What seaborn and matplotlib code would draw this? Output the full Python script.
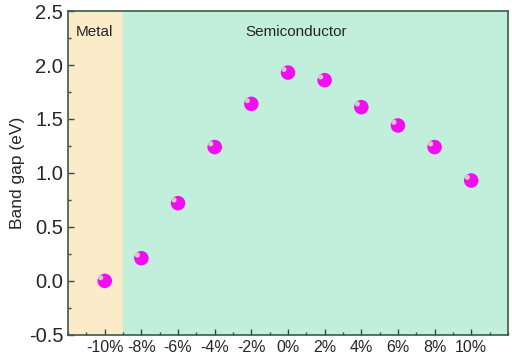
import matplotlib
matplotlib.use('Agg')
import matplotlib.pyplot as plt
import seaborn as sns
import numpy as np
import pandas as pd
from matplotlib.ticker import MultipleLocator

strain = [-10, -8, -6, -4, -2, 0, 2, 4, 6, 8, 10]
band_gap = [0.0, 0.21, 0.72, 1.24, 1.64, 1.93, 1.86, 1.61, 1.44, 1.24, 0.93]
tick_labels = ['-10%', '-8%', '-6%', '-4%', '-2%', '0%', '2%', '4%', '6%', '8%', '10%']
regions = ['Metal', 'Semiconductor']

df = pd.DataFrame({'strain': strain, 'gap': band_gap})

sns.set_style('ticks')
plt.rcParams['font.family'] = ['Liberation Sans', 'DejaVu Sans']

fig, ax = plt.subplots(figsize=(5.12, 3.57), dpi=100)
fig.subplots_adjust(left=0.133, right=0.992, top=0.969, bottom=0.062)

ax.axvspan(-12, -9, color='#fcebc9', zorder=0)
ax.axvspan(-9, 12, color='#c2efdc', zorder=0)

sns.scatterplot(data=df, x='strain', y='gap', ax=ax, s=110, color='#f20ef2',
                edgecolor='none', zorder=3)
# little highlight to make the dots look like spheres
ax.scatter(np.array(strain) - 0.22, np.array(band_gap) + 0.03, s=14,
           color='#d8c8c8', edgecolor='none', zorder=4)

ax.text(-10.55, 2.31, regions[0], ha='center', va='center', fontsize=11)
ax.text(0.45, 2.31, regions[1], ha='center', va='center', fontsize=11)

ax.set_xlim(-12, 12)
ax.set_ylim(-0.5, 2.5)
ax.set_xticks(strain)
ax.set_xticklabels(tick_labels, fontsize=11.5)
ax.xaxis.set_minor_locator(MultipleLocator(1))
ax.yaxis.set_major_locator(MultipleLocator(0.5))
ax.yaxis.set_minor_locator(MultipleLocator(0.25))
ax.yaxis.set_major_formatter(matplotlib.ticker.FormatStrFormatter('%.1f'))
ax.tick_params(axis='y', labelsize=14.5)
ax.tick_params(which='both', direction='in', color='#2f4f3f', width=1)
ax.tick_params(which='major', length=4)
ax.tick_params(which='minor', length=2.5)
ax.tick_params(top=False, right=False)
for sp in ax.spines.values():
    sp.set_color('#3c5a4a')
    sp.set_linewidth(1.2)

ax.set_xlabel('')
ax.set_ylabel('Band gap (eV)', fontsize=12.5, labelpad=3)

fig.savefig('out.png', dpi=100)
